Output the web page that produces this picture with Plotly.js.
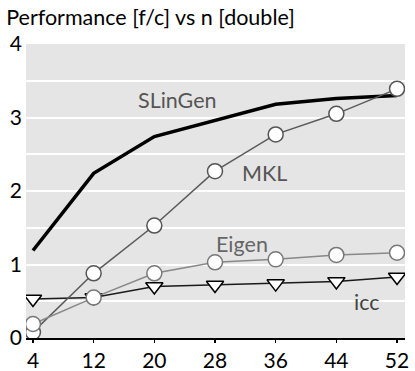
<!DOCTYPE html>
<html><head><meta charset="utf-8">
<script src="https://cdn.plot.ly/plotly-3.0.1.min.js"></script>
<style>html,body{margin:0;padding:0;background:#fff}#c{width:415px;height:371px}</style>
</head><body><div id="c"></div>
<script>
const n = [4, 12, 20, 28, 36, 44, 52];
const slingen = [1.19, 2.24, 2.74, 2.96, 3.18, 3.26, 3.3];
const mkl = [0.08, 0.88, 1.53, 2.27, 2.77, 3.05, 3.39];
const eigen = [0.19, 0.55, 0.88, 1.03, 1.07, 1.13, 1.16];
const icc = [0.53, 0.55, 0.70, 0.72, 0.74, 0.77, 0.83];
const yTicks = [0, 1, 2, 3, 4];
const yTickText = ['0', '1', '2', '3', '4'];

const F = 'Lato, "Open Sans", sans-serif';
const traces = [
  {x: n, y: slingen, mode: 'lines', line: {color: '#000', width: 3.5}, name: 'SLinGen'},
  {x: n, y: icc, mode: 'lines+markers', line: {color: '#1a1a1a', width: 1.5},
   marker: {symbol: 'triangle-down', size: 15, color: '#fff', line: {color: '#000', width: 1.5}}, name: 'icc'},
  {x: n, y: mkl, mode: 'lines+markers', line: {color: '#5a5a5a', width: 1.5},
   marker: {symbol: 'circle', size: 15, color: '#fff', line: {color: '#555', width: 1.5}}, name: 'MKL'},
  {x: n, y: eigen, mode: 'lines+markers', line: {color: '#888', width: 1.5},
   marker: {symbol: 'circle', size: 15, color: '#fff', line: {color: '#777', width: 1.5}}, name: 'Eigen'}
];
const layout = {
  width: 415, height: 371,
  margin: {l: 26, r: 10, t: 44, b: 33},
  paper_bgcolor: '#fff', plot_bgcolor: '#e5e5e5',
  showlegend: false,
  font: {family: F, size: 21, color: '#000'},
  title: {text: 'Performance [f/c] vs n [double]', x: 0.015, xanchor: 'left', y: 0.952, yanchor: 'middle', font: {family: F, size: 21.5, color: '#000'}},
  xaxis: {range: [3.08, 53.05], tickvals: n, ticktext: n.map(String), showgrid: false, zeroline: false,
    showline: true, linecolor: '#000', linewidth: 2, ticks: 'outside', ticklen: 3, tickwidth: 1.5, tickcolor: '#000',
    tickfont: {family: F, size: 21, color: '#000'}},
  yaxis: {range: [0, 4.0], tickvals: yTicks, ticktext: yTickText, showgrid: true, gridcolor: '#fff', gridwidth: 2,
    zeroline: false, showline: false, ticks: '', ticklabelstandoff: 3,
    minor: {dtick: 0.5, showgrid: true, gridcolor: '#fff', gridwidth: 2},
    tickfont: {family: F, size: 21, color: '#000'}},
  annotations: [
    {x: 23.1, y: 3.24, text: 'SLinGen', showarrow: false, font: {family: F, size: 21.5, color: '#555'}},
    {x: 34.5, y: 2.24, text: 'MKL', showarrow: false, font: {family: F, size: 21.5, color: '#555'}},
    {x: 31.6, y: 1.28, text: 'Eigen', showarrow: false, font: {family: F, size: 21.5, color: '#666'}},
    {x: 48.1, y: 0.49, text: 'icc', showarrow: false, font: {family: F, size: 21.5, color: '#444'}}
  ]
};
Plotly.newPlot('c', traces, layout, {displayModeBar: false, staticPlot: true});
</script></body></html>
